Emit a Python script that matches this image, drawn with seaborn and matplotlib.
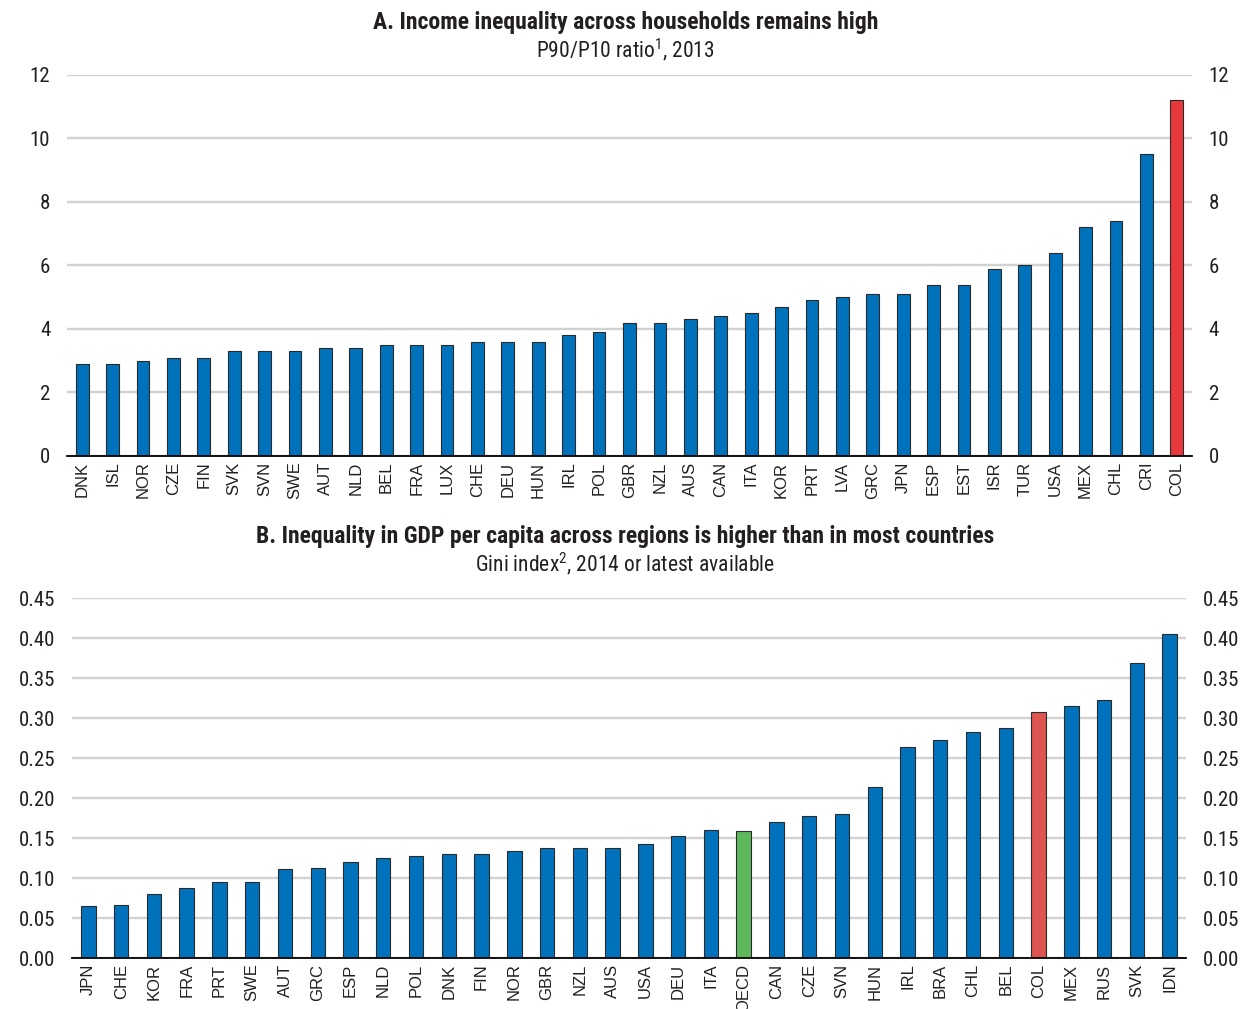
import numpy as np
import pandas as pd
import matplotlib
matplotlib.use('Agg')
import matplotlib.pyplot as plt
import seaborn as sns
from matplotlib.ticker import FixedLocator, FormatStrFormatter

# Panel A: P90/P10 ratio, 2013
countries_a = ['DNK', 'ISL', 'NOR', 'CZE', 'FIN', 'SVK', 'SVN', 'SWE', 'AUT', 'NLD',
               'BEL', 'FRA', 'LUX', 'CHE', 'DEU', 'HUN', 'IRL', 'POL', 'GBR', 'NZL',
               'AUS', 'CAN', 'ITA', 'KOR', 'PRT', 'LVA', 'GRC', 'JPN', 'ESP', 'EST',
               'ISR', 'TUR', 'USA', 'MEX', 'CHL', 'CRI', 'COL']
values_a = [2.9, 2.9, 3.0, 3.1, 3.1, 3.3, 3.3, 3.3, 3.4, 3.4,
            3.5, 3.5, 3.5, 3.6, 3.6, 3.6, 3.8, 3.9, 4.2, 4.2,
            4.3, 4.4, 4.5, 4.7, 4.9, 5.0, 5.1, 5.1, 5.4, 5.4,
            5.9, 6.0, 6.4, 7.2, 7.4, 9.5, 11.2]

# Panel B: Gini index of regional GDP per capita
countries_b = ['JPN', 'CHE', 'KOR', 'FRA', 'PRT', 'SWE', 'AUT', 'GRC', 'ESP', 'NLD',
               'POL', 'DNK', 'FIN', 'NOR', 'GBR', 'NZL', 'AUS', 'USA', 'DEU', 'ITA',
               'OECD', 'CAN', 'CZE', 'SVN', 'HUN', 'IRL', 'BRA', 'CHL', 'BEL', 'COL',
               'MEX', 'RUS', 'SVK', 'IDN']
values_b = [0.065, 0.066, 0.080, 0.088, 0.095, 0.095, 0.111, 0.112, 0.120, 0.125,
            0.127, 0.130, 0.130, 0.134, 0.137, 0.138, 0.138, 0.142, 0.152, 0.160,
            0.159, 0.170, 0.178, 0.180, 0.214, 0.264, 0.272, 0.283, 0.288, 0.308,
            0.315, 0.322, 0.369, 0.405]

BLUE = '#0072BC'
RED_A = '#E8383D'
RED_B = '#DE5450'
GREEN = '#5DB85C'
TXT = '#231F20'

sns.set_theme(style='white')
plt.rcParams['font.family'] = ['Roboto Condensed', 'DejaVu Sans']
plt.rcParams['mathtext.fontset'] = 'custom'
plt.rcParams['mathtext.rm'] = 'Roboto Condensed'

W, H = 1243, 1009
fig = plt.figure(figsize=(W / 100, H / 100), dpi=100)
ax_a = fig.add_axes([67 / W, 1 - 456 / H, (1192 - 67) / W, (456 - 75) / H])
ax_b = fig.add_axes([72 / W, 1 - 958 / H, (1186 - 72) / W, (958 - 598) / H])


def draw_panel(ax, names, vals, palette, ymax, step, fmt, width,
               title, subtitle, title_y, sub_y):
    df = pd.DataFrame({'country': names, 'value': vals})
    sns.barplot(data=df, x='country', y='value', hue='country', palette=palette,
                legend=False, width=width, edgecolor='#2a2a2a', linewidth=0.8,
                saturation=1, ax=ax, zorder=3)
    n = len(names)
    ax.set_xlim(-0.5, n - 0.5)
    ax.set_ylim(0, ymax)
    ax.set_yticks(np.arange(0, ymax + step / 2, step))
    ax.yaxis.set_major_formatter(FormatStrFormatter(fmt))
    ax.grid(axis='y', color='#d2d2d2', linewidth=1.7, zorder=0)
    ax.set_axisbelow(True)
    for s in ['top', 'right', 'left']:
        ax.spines[s].set_visible(False)
    ax.spines['bottom'].set_color('black')
    ax.spines['bottom'].set_linewidth(1.3)
    ax.spines['bottom'].set_zorder(4)
    ax.tick_params(axis='y', which='both', length=0, labelsize=15,
                   labelleft=True, labelright=True, pad=12, colors=TXT)
    ax.tick_params(axis='x', which='major', length=0, labelsize=12,
                   labelrotation=90, pad=4, colors=TXT)
    ax.xaxis.set_minor_locator(FixedLocator(np.arange(-0.5, n, 1.0)))
    ax.tick_params(axis='x', which='minor', length=6, width=1.2, color='black',
                   direction='out')
    for lab in ax.get_xticklabels():
        lab.set_family(['Liberation Sans', 'DejaVu Sans'])
    ax.set_xlabel('')
    ax.set_ylabel('')
    fig.text(0.503, 1 - title_y / H, title, ha='center', va='center',
             fontsize=17, fontweight='bold', color=TXT)
    fig.text(0.503, 1 - sub_y / H, subtitle, ha='center', va='center',
             fontsize=15.5, color=TXT)


pal_a = {c: (RED_A if c == 'COL' else BLUE) for c in countries_a}
pal_b = {c: (RED_B if c == 'COL' else GREEN if c == 'OECD' else BLUE) for c in countries_b}

draw_panel(ax_a, countries_a, values_a, pal_a, 12, 2, '%d', 0.42,
           'A. Income inequality across households remains high',
           'P90/P10 ratio$^{1}$, 2013', 22, 50)
draw_panel(ax_b, countries_b, values_b, pal_b, 0.45, 0.05, '%.2f', 0.44,
           'B. Inequality in GDP per capita across regions is higher than in most countries',
           'Gini index$^{2}$, 2014 or latest available', 537, 564)

fig.savefig('out.png', dpi=100)
